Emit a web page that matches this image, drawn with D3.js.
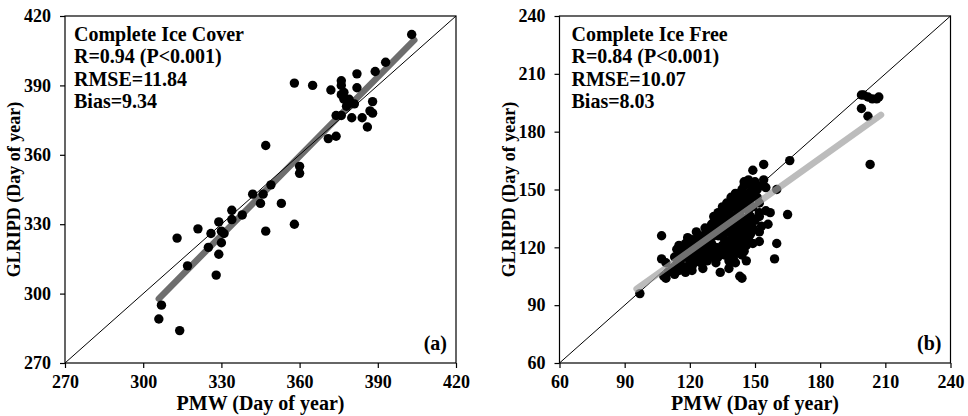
<!DOCTYPE html>
<html>
<head>
<meta charset="utf-8">
<script src="https://cdn.jsdelivr.net/npm/d3@7"></script>
<style>
  body { margin: 0; background: #fff; }
  svg { display: block; font-family: "Liberation Serif", "Times New Roman", serif; font-weight: bold; }
</style>
</head>
<body>
<div id="chart"></div>
<script>
// Panel (a): complete ice cover dates, [PMW, GLRIPD]
const coverPoints = [
  [403,412],[393,400],[389,396],[382,395],[358,391],[365,390],[372,388],[376,392],[376,390],[382,389],
  [377,387],[376,386],[377,384],[379,384],[378,381],[381,382],[388,383],[374,377],[376,377],[380,376],
  [384,376],[387,379],[388,378],[386,372],[371,367],[374,368],[347,364],[360,355],[360,352],[349,347],
  [342,343],[346,343],[345,339],[353,339],[338,334],[334,336],[334,332],[329,331],[330,327],[331,326],
  [326,326],[321,328],[330,322],[325,320],[329,317],[313,324],[317,312],[328,308],[358,330],[347,327],
  [307,295],[306,289],[314,284]
];
const coverFitX = [306, 404];
const coverFitY = [297.8, 409.6];
const coverTicks = [270, 300, 330, 360, 390, 420];
const coverStats = ["Complete Ice Cover", "R=0.94 (P<0.001)", "RMSE=11.84", "Bias=9.34"];

// Panel (b): complete ice free dates, [PMW, GLRIPD]
const freePoints = [
  [97,96],[107,126],[107,114],[109,112],[108,105],[110,107],[109,104],[115,121],[160,150],[165,137],
  [159,114],[160,122],[166,165],[154,163],[149,160],[146,113],[141,112],[143,105],[144,104],[138,109],
  [134,107],[132,112],[126,109],[121,108],[127,114],[125,113],[152,123],[152,128],[153,131],[156,132],
  [155,139],[157,138],[154,155],[153,152],[155,151],[146,154],[145,154],
  [114,119],[115,117],[113,115],[116,114],[114,111],[117,110],[115,108],[112,109],[113,106],[117,116],[116,119],
  [119,125],[118,122],[120,121],[119,118],[121,117],[118,115],[120,113],[122,112],[119,110],[121,110],[118,107],[121,124],[122,120],
  [123,128],[124,126],[122,123],[125,123],[123,118],[126,118],[124,115],[122,114],[125,112],[124,120],[126,121],
  [127,130],[128,127],[126,124],[129,124],[127,121],[129,120],[128,117],[130,115],[128,113],[126,126],[129,129],[130,132],
  [131,136],[133,138],[131,133],[130,130],[132,129],[131,126],[133,126],[130,122],[132,120],[134,118],[131,118],[133,115],[132,134],[134,131],[134,136],
  [135,141],[137,143],[136,139],[135,137],[134,134],[136,132],[135,129],[137,128],[134,126],[136,124],[138,122],[135,121],[137,119],[136,116],[138,113],[137,135],[138,138],
  [139,146],[141,148],[140,144],[139,141],[138,139],[140,136],[139,133],[141,131],[138,130],[140,127],[142,125],[139,124],[141,122],[140,119],[142,117],[140,114],[142,139],[141,143],[142,121],[139,116],
  [143,145],[142,142],[144,140],[143,137],[145,135],[142,134],[144,131],[146,129],[143,128],[145,126],[144,123],[146,121],[143,119],[145,118],[144,150],[145,152],[147,155],[143,148],[144,116],[146,125],[145,143],
  [147,148],[148,145],[146,143],[149,141],[147,139],[148,136],[150,134],[147,132],[149,130],[148,127],[147,124],[149,122],[150,151],[149,149],[150,154],[146,146],[148,152],
  [151,146],[152,143],[152,138],[152,136],[151,150],
  [199,199],[200,199],[202,198],[204,197],[206,197],[207,198],[199,192],[202,188],[203,163]
];
const freeFitX = [95.5, 208];
const freeFitY = [98.4, 188.7];
const freeTicks = [60, 90, 120, 150, 180, 210, 240];
const freeStats = ["Complete Ice Free", "R=0.84 (P<0.001)", "RMSE=10.07", "Bias=8.03"];

const W = 968, H = 416;
const svg = d3.select("#chart").append("svg").attr("width", W).attr("height", H);

function drawPanel(cfg) {
  const left = cfg.left, top = 16, w = 391, h = 347;
  const g = svg.append("g").attr("transform", `translate(${left},${top})`);
  const ticks = cfg.ticks;
  const x = d3.scaleLinear().domain([ticks[0], ticks[ticks.length - 1]]).range([0, w]);
  const y = d3.scaleLinear().domain([ticks[0], ticks[ticks.length - 1]]).range([h, 0]);

  // regression line
  const fit = d3.line().x(d => x(d[0])).y(d => y(d[1]));
  const fitData = cfg.fitX.map((v, i) => [v, cfg.fitY[i]]);
  const drawFit = () => g.append("path")
    .attr("d", fit(fitData))
    .attr("fill", "none")
    .attr("stroke", cfg.fitColor)
    .attr("stroke-opacity", cfg.fitOpacity)
    .attr("stroke-width", 6.5)
    .attr("stroke-linecap", "round");

  if (!cfg.fitOnTop) drawFit();

  // 1:1 line
  g.append("line")
    .attr("x1", x(ticks[0])).attr("y1", y(ticks[0]))
    .attr("x2", x(ticks[ticks.length - 1])).attr("y2", y(ticks[ticks.length - 1]))
    .attr("stroke", "#000").attr("stroke-width", 1);

  g.selectAll("circle.pt")
    .data(cfg.points)
    .enter()
    .append("circle")
    .attr("class", "pt")
    .attr("cx", d => x(d[0]))
    .attr("cy", d => y(d[1]))
    .attr("r", 4.7)
    .attr("fill", "#000");

  if (cfg.fitOnTop) drawFit();

  // frame
  g.append("rect")
    .attr("width", w).attr("height", h)
    .attr("fill", "none").attr("stroke", "#000").attr("stroke-width", 1.2);

  const xAxis = g.append("g")
    .attr("transform", `translate(0,${h})`)
    .call(d3.axisBottom(x).tickValues(ticks).tickSize(5).tickSizeOuter(0).tickPadding(7));
  const yAxis = g.append("g")
    .call(d3.axisLeft(y).tickValues(ticks).tickSize(5).tickSizeOuter(0).tickPadding(9));

  [xAxis, yAxis].forEach(a => {
    a.select(".domain").remove();
    a.selectAll(".tick line").attr("stroke", "#000").attr("stroke-width", 1.2);
    a.selectAll("text")
      .attr("fill", "#000")
      .style("font-family", "Liberation Serif, Times New Roman, serif")
      .style("font-weight", "bold")
      .style("font-size", "18px");
  });

  // axis titles
  g.append("text")
    .attr("x", w / 2)
    .attr("y", 394)
    .attr("text-anchor", "middle")
    .style("font-size", "20px")
    .text("PMW (Day of year)");

  g.append("text")
    .attr("transform", `translate(-45,${h / 2}) rotate(-90)`)
    .attr("text-anchor", "middle")
    .style("font-size", "18px")
    .text("GLRIPD (Day of year)");

  // stats block
  g.selectAll("text.stat")
    .data(cfg.stats)
    .enter()
    .append("text")
    .attr("class", "stat")
    .attr("x", cfg.statPad)
    .attr("y", (d, i) => 25 + i * 22.3)
    .style("font-size", "20px")
    .text(d => d);

  g.append("text")
    .attr("x", w - 9)
    .attr("y", 334)
    .attr("text-anchor", "end")
    .style("font-size", "20px")
    .text(cfg.label);
}

drawPanel({
  left: 65, ticks: coverTicks, points: coverPoints,
  fitX: coverFitX, fitY: coverFitY, fitColor: "#6e6e6e", fitOpacity: 1, fitOnTop: false,
  stats: coverStats, statPad: 9, label: "(a)"
});
drawPanel({
  left: 559.5, ticks: freeTicks, points: freePoints,
  fitX: freeFitX, fitY: freeFitY, fitColor: "#a0a0a0", fitOpacity: 0.7, fitOnTop: true,
  stats: freeStats, statPad: 12, label: "(b)"
});
</script>
</body>
</html>
